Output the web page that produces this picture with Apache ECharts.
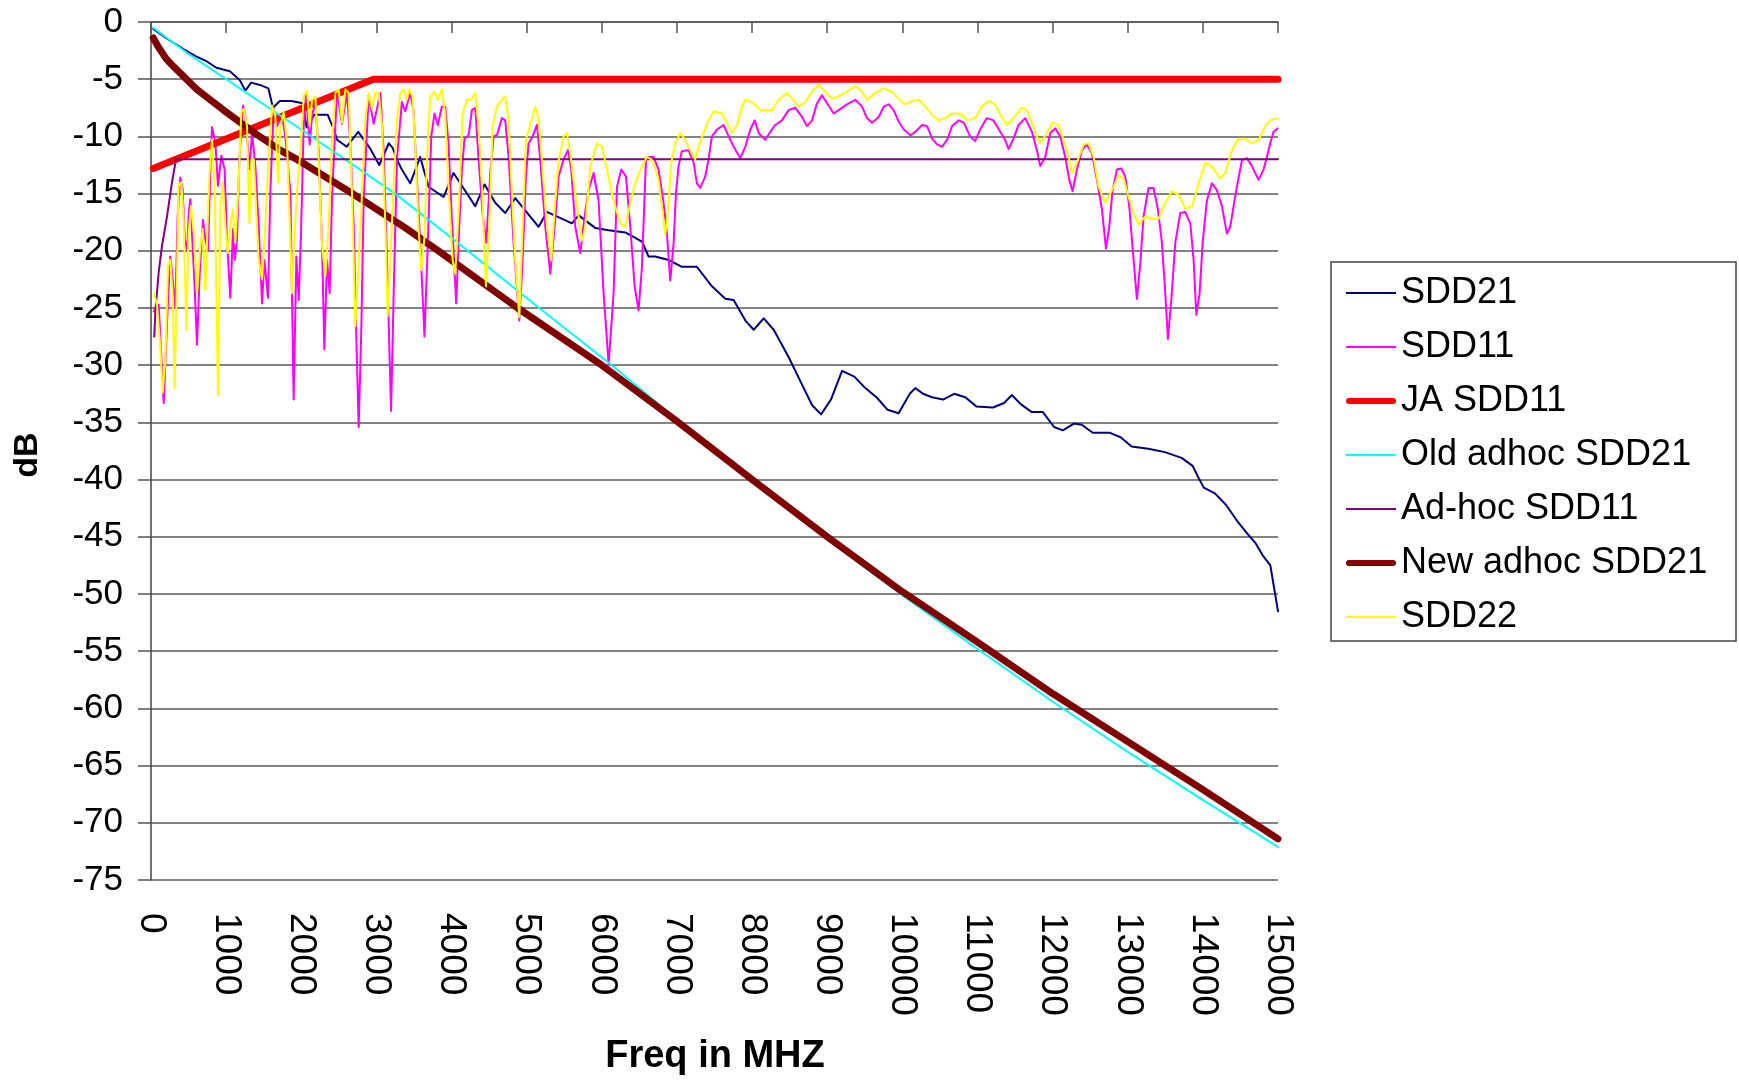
<!DOCTYPE html>
<html>
<head>
<meta charset="utf-8">
<title>SDD chart</title>
<script src="https://cdn.jsdelivr.net/npm/echarts@6/dist/echarts.min.js"></script>
<style>
  html, body { margin: 0; padding: 0; background: #fff; }
  #chart { width: 1739px; height: 1080px; }
</style>
</head>
<body>
<div id="chart"></div>
<script>
// frequency (MHz) / dB pairs
const sdd21 = [[30,-0.6],[200,-1.4],[438,-2.4],[600,-3],[744,-3.45],[871,-4.0],[1050,-4.3],[1180,-5.06],[1256,-6.0],[1333,-5.3],[1450,-5.5],[1562,-5.8],[1623,-7.5],[1715,-6.9],[1868,-6.9],[2020,-7.1],[2071,-9.2],[2173,-8.1],[2351,-8.1],[2427,-9.3],[2478,-10.3],[2606,-10.9],[2758,-9.6],[2911,-11.0],[3038,-12.5],[3166,-10.6],[3216,-11.0],[3293,-12.3],[3339,-12.9],[3450,-14.1],[3583,-11.8],[3694,-14.4],[3894,-15.3],[4027,-13.2],[4316,-16.1],[4440,-14.2],[4582,-15.8],[4715,-16.7],[4848,-15.4],[5159,-17.9],[5270,-16.6],[5603,-17.6],[5691,-16.9],[5913,-18.0],[6091,-18.2],[6313,-18.4],[6535,-19.2],[6623,-20.5],[6711,-20.5],[6889,-20.8],[7066,-21.4],[7266,-21.4],[7466,-23.1],[7644,-24.2],[7755,-24.3],[7911,-26.1],[8022,-26.9],[8155,-25.9],[8288,-26.9],[8488,-29.3],[8650,-31.5],[8800,-33.5],[8918,-34.3],[9050,-33],[9198,-30.5],[9361,-31],[9508,-32],[9656,-32.8],[9804,-33.9],[9951,-34.2],[10099,-32.5],[10173,-32],[10276,-32.5],[10394,-32.8],[10542,-33],[10690,-32.5],[10838,-32.8],[10985,-33.6],[11207,-33.7],[11354,-33.3],[11458,-32.6],[11576,-33.4],[11723,-34.1],[11871,-34.1],[12019,-35.4],[12136,-35.7],[12284,-35.1],[12388,-35.2],[12535,-35.9],[12757,-35.9],[12905,-36.3],[13052,-37.1],[13274,-37.3],[13495,-37.6],[13717,-38.1],[13864,-38.8],[13938,-39.8],[14012,-40.7],[14160,-41.2],[14307,-42.2],[14455,-43.6],[14602,-44.8],[14706,-45.6],[14794,-46.6],[14898,-47.5],[14972,-50.4],[15000,-51.5]];

const sdd11 = [[35,-25.3],[102,-24.7],[169,-33.3],[226,-24.3],[257,-20.5],[288,-22.5],[324,-25],[355,-17],[390,-13.6],[420,-14.5],[450,-19],[479,-20],[505,-16.5],[524,-15.5],[550,-19],[580,-23],[612,-28.2],[648,-22],[692,-17.3],[723,-19],[759,-20],[790,-13],[812,-9.2],[856,-10.5],[892,-14.3],[936,-11.7],[980,-12.9],[1012,-19.3],[1056,-24.1],[1092,-18.1],[1114,-20.8],[1145,-19],[1176,-12],[1225,-7.3],[1256,-8.2],[1313,-12.9],[1344,-9.7],[1389,-12.6],[1433,-17.8],[1478,-24.6],[1509,-20.8],[1557,-24.1],[1588,-14.9],[1633,-7.6],[1677,-9.1],[1744,-8.2],[1788,-10],[1855,-14.9],[1899,-33.0],[1935,-20.5],[1966,-24.3],[1997,-18.4],[2032,-9.1],[2063,-6.3],[2112,-10.7],[2143,-8.2],[2187,-7.0],[2232,-11.4],[2276,-19.3],[2307,-28.6],[2343,-20.8],[2378,-23.7],[2409,-15.5],[2476,-6.0],[2542,-8.9],[2609,-6.2],[2653,-10.5],[2698,-17.8],[2729,-26.6],[2764,-35.4],[2800,-26.6],[2831,-15.5],[2897,-6.5],[2964,-8.9],[3053,-6.2],[3097,-11.4],[3141,-20.8],[3195,-34.0],[3230,-23.7],[3274,-12],[3339,-7.0],[3383,-7.8],[3450,-6.2],[3494,-7.7],[3538,-13.5],[3583,-19.3],[3640,-27.5],[3685,-19.3],[3730,-10],[3773,-8],[3818,-9],[3871,-7.4],[3916,-7.4],[3960,-10.6],[4005,-17.3],[4062,-24.6],[4102,-17.9],[4138,-12.9],[4173,-10.2],[4227,-9.9],[4271,-7.7],[4316,-7.5],[4360,-12],[4413,-16.7],[4462,-19.3],[4516,-13.2],[4560,-10],[4604,-9.9],[4671,-8.4],[4715,-8.6],[4760,-11.8],[4826,-19.3],[4902,-26.1],[4946,-20.8],[4990,-13.5],[5026,-10.6],[5079,-10],[5137,-9],[5181,-12],[5248,-17.9],[5315,-22],[5372,-17.9],[5426,-13.5],[5492,-12],[5550,-11.2],[5594,-12.9],[5647,-17.9],[5714,-20.2],[5771,-17],[5824,-14.7],[5891,-13.2],[5957,-15.6],[6024,-23.7],[6091,-29.9],[6157,-23.7],[6202,-14.4],[6260,-12.9],[6322,-13.5],[6379,-17.9],[6437,-23.1],[6490,-25.2],[6534,-21.4],[6588,-12.0],[6623,-11.8],[6689,-11.8],[6756,-12.9],[6822,-15.8],[6867,-18.5],[6911,-22.6],[6956,-19.3],[6987,-15],[7022,-12.6],[7066,-11.3],[7155,-11.2],[7222,-12.3],[7266,-14.1],[7310,-14.5],[7377,-13.5],[7421,-12],[7466,-10],[7533,-9.4],[7622,-9],[7688,-10],[7755,-10.9],[7844,-11.9],[7910,-10.9],[7977,-9.4],[8035,-8.6],[8088,-9.7],[8176,-10.3],[8243,-9.6],[8309,-9],[8398,-8.6],[8487,-7.7],[8576,-7.5],[8665,-8.3],[8731,-9.1],[8798,-8.6],[8864,-7.1],[8931,-6.4],[8998,-7.1],[9087,-8],[9153,-7.7],[9264,-7.2],[9375,-6.8],[9464,-7.4],[9530,-8.4],[9597,-8.8],[9686,-8.3],[9752,-7.4],[9819,-7.2],[9885,-7.7],[9952,-8.7],[10019,-9.4],[10108,-9.9],[10174,-9.6],[10263,-9],[10330,-9.1],[10396,-10.2],[10463,-10.7],[10530,-10.9],[10596,-10.3],[10663,-9.1],[10752,-8.6],[10818,-8.8],[10903,-10],[10970,-10.4],[11036,-9.4],[11125,-8.4],[11214,-8.6],[11303,-9.6],[11369,-10.3],[11414,-11.1],[11480,-10.2],[11547,-9],[11636,-8.4],[11725,-9.6],[11791,-11.2],[11836,-12.6],[11902,-11.8],[11969,-9.7],[12035,-9.3],[12102,-10],[12168,-11.8],[12222,-13.8],[12266,-14.8],[12324,-12.9],[12390,-11.2],[12457,-10.7],[12524,-11.5],[12590,-13.8],[12657,-16.4],[12710,-19.8],[12754,-17.9],[12799,-14.7],[12857,-12.9],[12914,-12.8],[12967,-13.5],[13020,-16.1],[13078,-20.8],[13122,-24.2],[13167,-21.1],[13211,-17],[13277,-14.5],[13344,-14.5],[13402,-16.4],[13455,-19.3],[13500,-23.7],[13535,-27.7],[13580,-24.3],[13633,-19.3],[13699,-16.7],[13766,-16.6],[13833,-17.6],[13877,-20.8],[13913,-25.6],[13957,-23.7],[13997,-19.3],[14054,-15.6],[14121,-14.1],[14187,-14.7],[14254,-16.1],[14320,-18.5],[14365,-17.9],[14409,-16.1],[14453,-14.4],[14520,-12.1],[14586,-11.9],[14653,-12.6],[14742,-13.8],[14808,-12.9],[14852,-11.8],[14897,-10.6],[14941,-9.6],[14994,-9.3]];

const jaSdd11 = [[30,-12.8],[2960,-5],[15000,-5]];

const oldAdhocSdd21 = [[30,-0.5],[500,-2.8],[1000,-5.0],[2000,-9.4],[3250,-15],[4218,-20],[5167,-25],[6134,-30],[7050,-35],[8000,-40],[9000,-45.2],[10000,-50.1],[11000,-54.8],[12000,-59.4],[13000,-63.8],[14000,-68.0],[15000,-72.1]];

const adhocSdd11 = [[44,-27.5],[58,-25.3],[102,-21.9],[146,-19.6],[213,-17],[280,-14],[333,-12],[15000,-12]];

const newAdhocSdd21 = [[30,-1.4],[100,-2.2],[200,-3.2],[300,-3.9],[611,-5.9],[965,-7.7],[1400,-9.8],[1720,-11.2],[1966,-12.1],[2680,-15],[3385,-18],[3825,-20],[4880,-25],[6000,-30],[7000,-34.9],[8000,-40],[9000,-45],[10000,-49.8],[11000,-54.2],[12000,-58.7],[13000,-62.9],[14000,-67.1],[15000,-71.4]];

const sdd22 = [[44,-23.7],[80,-24.8],[124,-28.4],[155,-32.4],[191,-29.5],[226,-21.3],[257,-20.8],[288,-23.7],[315,-32],[346,-22.2],[368,-14.3],[404,-14],[435,-17.3],[470,-26.9],[501,-18.4],[532,-16.1],[568,-18.4],[612,-23.7],[657,-19.6],[688,-18.1],[723,-23.4],[776,-13.5],[812,-10.3],[847,-14.3],[892,-32.6],[923,-16.4],[954,-14],[990,-17.8],[1021,-20.2],[1056,-17.8],[1087,-16.4],[1123,-19.3],[1167,-14],[1202,-7.9],[1234,-7.6],[1278,-9.1],[1309,-17.6],[1336,-12],[1367,-12],[1433,-20.8],[1478,-22.5],[1522,-17.8],[1566,-12],[1611,-7.3],[1655,-8.2],[1690,-14],[1722,-9.1],[1766,-7.9],[1810,-10.5],[1855,-19],[1877,-23.7],[1899,-20.2],[1943,-14.9],[1988,-11.4],[2032,-6.5],[2077,-6],[2112,-9.1],[2143,-6.8],[2187,-6.5],[2232,-12],[2276,-19.6],[2321,-22.2],[2365,-17.8],[2409,-10.5],[2454,-6.2],[2498,-5.9],[2542,-8.8],[2587,-5.9],[2631,-6.2],[2675,-14.9],[2720,-26.6],[2764,-21.3],[2809,-14.9],[2853,-8.5],[2897,-6.2],[2942,-7.6],[2986,-6.2],[3030,-6.2],[3075,-9.1],[3119,-17.8],[3150,-25.7],[3186,-20.8],[3230,-14.3],[3274,-8.5],[3319,-6.2],[3363,-5.9],[3405,-6.8],[3436,-5.9],[3481,-6.5],[3516,-10.6],[3561,-17.9],[3597,-21.7],[3640,-18.8],[3672,-12.1],[3716,-6.5],[3773,-6.1],[3818,-6.8],[3871,-5.9],[3916,-8],[3960,-14.4],[4014,-20.8],[4049,-22],[4102,-15.6],[4147,-8],[4205,-6.8],[4262,-6.8],[4316,-6.2],[4360,-9.1],[4405,-14.4],[4458,-23.1],[4502,-17.9],[4547,-9.1],[4604,-7.4],[4671,-6.8],[4715,-6.5],[4760,-8.6],[4804,-15],[4848,-20.8],[4902,-25.8],[4946,-17.9],[4990,-10.3],[5048,-9],[5114,-7.4],[5159,-8.4],[5203,-12.1],[5270,-17.9],[5328,-20.8],[5372,-16.4],[5426,-12.1],[5492,-10],[5536,-9.7],[5581,-11.5],[5647,-15],[5736,-19.1],[5780,-17.9],[5847,-12.6],[5935,-10.6],[6002,-10.9],[6069,-12.9],[6157,-15.6],[6246,-17.6],[6313,-17.9],[6379,-15.8],[6446,-14.1],[6535,-12.6],[6601,-11.8],[6659,-12],[6689,-12.3],[6756,-13.8],[6800,-16.1],[6845,-18.6],[6880,-16.4],[6925,-12.3],[6978,-10.6],[7044,-9.7],[7111,-10.3],[7199,-11.5],[7244,-12],[7288,-10.9],[7355,-9.7],[7421,-8.6],[7488,-7.8],[7599,-8],[7666,-8.8],[7733,-9.7],[7799,-9],[7866,-7.4],[7910,-6.8],[7999,-7],[8110,-7.7],[8265,-7.7],[8354,-6.8],[8465,-6.2],[8532,-6.7],[8620,-7.4],[8709,-7],[8798,-6.1],[8887,-5.5],[8975,-6.1],[9064,-6.7],[9153,-6.5],[9264,-6.1],[9375,-5.6],[9464,-6.1],[9530,-6.8],[9641,-6.2],[9752,-5.8],[9863,-6.1],[9952,-6.7],[10041,-7.2],[10130,-6.9],[10219,-6.8],[10307,-7.4],[10396,-8.1],[10485,-8.6],[10574,-8.4],[10663,-8],[10774,-8],[10862,-8.6],[10970,-8.4],[11059,-7.4],[11147,-6.9],[11236,-7.2],[11325,-8.3],[11391,-9],[11480,-8.4],[11591,-7.5],[11658,-7.7],[11725,-8.8],[11791,-10],[11836,-10.6],[11924,-9.7],[12000,-8.8],[12079,-9],[12146,-10.3],[12213,-11.8],[12257,-13.2],[12324,-12.3],[12413,-10.7],[12479,-10.6],[12546,-11.8],[12612,-14.4],[12701,-15.8],[12790,-14.7],[12879,-13.4],[12945,-13.7],[13011,-15.3],[13078,-16.7],[13144,-17.7],[13233,-17],[13322,-17.2],[13411,-17.2],[13500,-15.8],[13589,-14.8],[13677,-15.1],[13766,-16.3],[13855,-16.1],[13944,-14.1],[14032,-12.3],[14121,-12.6],[14232,-13.7],[14298,-13.2],[14387,-11.2],[14475,-10.2],[14564,-10.2],[14653,-10.6],[14742,-10.3],[14830,-9.1],[14897,-8.6],[14994,-8.4]];

const freqMin = 0, freqMax = 15000, freqStep = 1000;
const dbMin = -75, dbMax = 0, dbStep = 5;

const font = '"Liberation Sans", Arial, sans-serif';
// legend swatches: thin and thick line stubs
const thinIcon = 'path://M0,0H50V2H0Z';
const thickIcon = 'path://M3,0H47A3,3 0 0 1 47,6H3A3,3 0 0 1 3,0Z';

function line(name, data, color, width) {
  return {
    name: name,
    type: 'line',
    data: data,
    symbol: 'none',
    color: color,
    lineStyle: { color: color, width: width, cap: 'round', join: 'round' },
    emphasis: { disabled: true }
  };
}

const chart = echarts.init(document.getElementById('chart'));
chart.setOption({
  animation: false,
  backgroundColor: '#fff',
  grid: { left: 151, top: 22, width: 1127, height: 858, containLabel: false },
  legend: {
    orient: 'vertical',
    left: 1341,
    top: 268,
    itemWidth: 50,
    itemHeight: 14,
    itemGap: 14,
    symbolKeepAspect: true,
    textStyle: { fontFamily: font, fontSize: 36, color: '#000', lineHeight: 40 },
    data: [
      { name: 'SDD21', icon: thinIcon },
      { name: 'SDD11', icon: thinIcon },
      { name: 'JA SDD11', icon: thickIcon },
      { name: 'Old adhoc SDD21', icon: thinIcon },
      { name: 'Ad-hoc SDD11', icon: thinIcon },
      { name: 'New adhoc SDD21', icon: thickIcon },
      { name: 'SDD22', icon: thinIcon }
    ]
  },
  xAxis: [
    {
      type: 'value', position: 'top', min: freqMin, max: freqMax, interval: freqStep,
      axisLine: { show: true, onZero: false, lineStyle: { color: '#555', width: 1.5 } },
      axisTick: { show: true, inside: true, length: 11, lineStyle: { color: '#555', width: 1.5 } },
      axisLabel: { show: false },
      splitLine: { show: false }
    },
    {
      type: 'value', position: 'bottom', min: freqMin, max: freqMax, interval: freqStep,
      axisLine: { show: false, onZero: false },
      axisTick: { show: false },
      axisLabel: {
        rotate: -90, margin: 33, fontSize: 37, fontFamily: font, color: '#000',
        formatter: v => String(v)
      },
      splitLine: { show: false }
    }
  ],
  yAxis: {
    type: 'value', min: dbMin, max: dbMax, interval: dbStep,
    axisLine: { show: true, onZero: false, lineStyle: { color: '#444', width: 1.5 } },
    axisTick: { show: true, inside: false, length: 13, lineStyle: { color: '#555', width: 1.5 } },
    axisLabel: { margin: 28, fontSize: 35, fontFamily: font, color: '#000' },
    splitLine: { show: true, lineStyle: { color: '#5a5a5a', width: 1.5 } }
  },
  graphic: [
    {
      type: 'rect',
      shape: { x: 1331, y: 262, width: 405, height: 379 },
      style: { fill: 'none', stroke: '#444', lineWidth: 1.5 }
    },
    {
      type: 'text', x: 28, y: 455, rotation: Math.PI / 2,
      style: { text: 'dB', fontSize: 34, fontWeight: 'bold', fontFamily: font, fill: '#000', align: 'center', verticalAlign: 'middle' }
    },
    {
      type: 'text', x: 715, y: 1057,
      style: { text: 'Freq in MHZ', fontSize: 38, fontWeight: 'bold', fontFamily: font, fill: '#000', align: 'center', verticalAlign: 'middle' }
    }
  ],
  series: [
    line('SDD21', sdd21, '#000080', 2),
    line('SDD11', sdd11, '#ff00ff', 2),
    line('JA SDD11', jaSdd11, '#ff0000', 7),
    line('Old adhoc SDD21', oldAdhocSdd21, '#00ffff', 2),
    line('Ad-hoc SDD11', adhocSdd11, '#800080', 2),
    line('New adhoc SDD21', newAdhocSdd21, '#800000', 7),
    line('SDD22', sdd22, '#ffff00', 2)
  ]
});
</script>
</body>
</html>
